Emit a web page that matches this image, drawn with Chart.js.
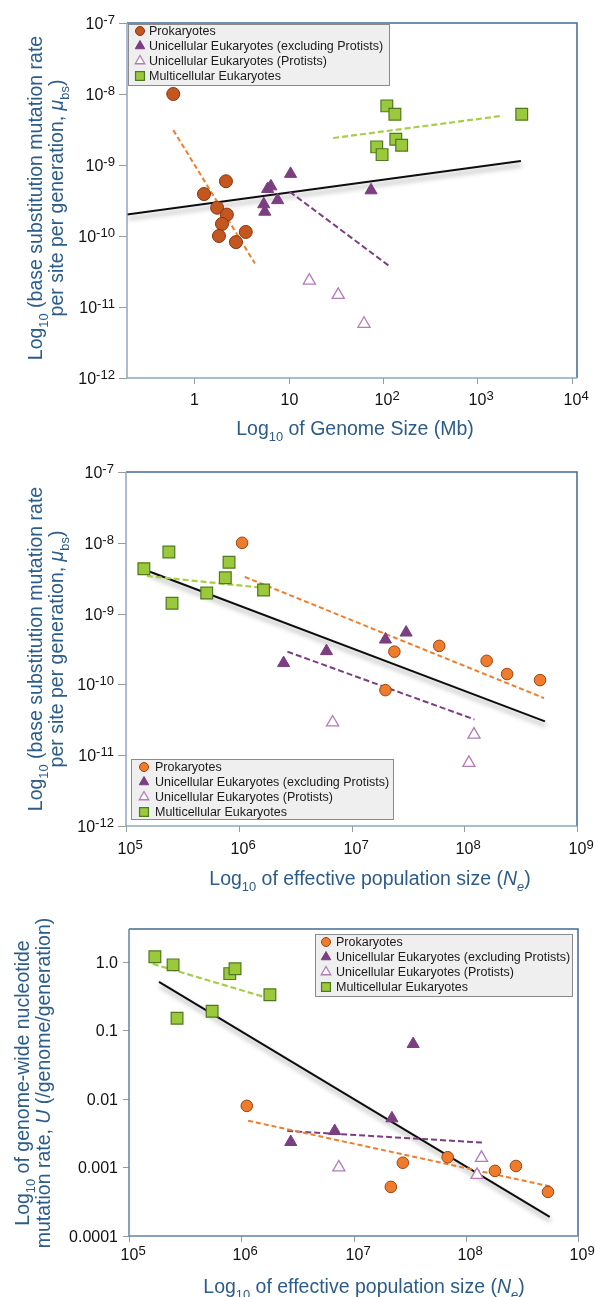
<!DOCTYPE html>
<html>
<head>
<meta charset="utf-8">
<script src="https://cdn.jsdelivr.net/npm/chart.js@4.4.1/dist/chart.umd.min.js"></script>
<style>
  body { margin: 0; background: #fff; }
  .panel { position: absolute; left: 0; width: 595px; }
  canvas { display: block; }
</style>
</head>
<body>
<div class="panel" style="top:0"><canvas id="genomeChart" width="595" height="445"></canvas></div>
<div class="panel" style="top:440px"><canvas id="neChart" width="595" height="456"></canvas></div>
<div class="panel" style="top:890px"><canvas id="uChart" width="595" height="407"></canvas></div>
<script>
// ---- data ----
const groupNames = ['Prokaryotes', 'Unicellular Eukaryotes (excluding Protists)', 'Unicellular Eukaryotes (Protists)', 'Multicellular Eukaryotes']

// top: base substitution rate vs genome size (Mb)
const genomeProk = [[0.6, 1e-8], [1.27, 3.9e-10], [2.17, 5.9e-10], [1.75, 2.5e-10], [2.22, 2.0e-10], [1.97, 1.48e-10], [1.83, 1.0e-10], [2.77, 8.2e-11], [3.52, 1.14e-10]]
const genomeUni = [[10.5, 7.5e-10], [6.0, 4.6e-10], [6.5, 5.0e-10], [7.66, 3.2e-10], [5.46, 2.8e-10], [5.6, 2.2e-10], [74.8, 4.4e-10]]
const genomeProtist = [[16.6, 2.35e-11], [33.6, 1.48e-11], [63, 5.8e-12]]
const genomeMulti = [[110, 6.8e-9], [134, 5.2e-9], [2960, 5.2e-9], [137, 2.3e-9], [158, 1.9e-9], [86, 1.8e-9], [98, 1.4e-9]]
const genomeFitAll = [[0.194, 2.0e-10], [2900, 1.14e-9]]
const genomeFitProk = [[0.6, 3.1e-9], [4.4, 4.1e-11]]
const genomeFitUni = [[10.3, 4.2e-10], [116, 3.8e-11]]
const genomeFitMulti = [[29.7, 2.4e-9], [1790, 4.9e-9]]

// middle: base substitution rate vs Ne
const neProk = [[1.07e6, 1.0e-8], [2.4e7, 2.9e-10], [6.0e7, 3.5e-10], [1.58e8, 2.15e-10], [2.4e8, 1.4e-10], [4.7e8, 1.15e-10], [2.0e7, 8.3e-11]]
const neUni = [[2.5e6, 2.0e-10], [6.0e6, 2.95e-10], [2.0e7, 4.3e-10], [3.05e7, 5.4e-10]]
const neProtist = [[6.8e6, 2.9e-11], [1.22e8, 1.95e-11], [1.1e8, 7.8e-12]]
const neMulti = [[1.44e5, 4.3e-9], [2.4e5, 7.4e-9], [2.56e5, 1.4e-9], [5.2e5, 1.95e-9], [7.6e5, 3.2e-9], [8.2e5, 5.3e-9], [1.66e6, 2.15e-9]]
const neFitAll = [[1.63e5, 3.9e-9], [5.2e8, 3.0e-11]]
const neFitProk = [[1.13e6, 3.3e-9], [5.1e8, 6.4e-11]]
const neFitUni = [[2.7e6, 2.9e-10], [1.23e8, 3.2e-11]]
const neFitMulti = [[1.53e5, 3.4e-9], [1.7e6, 2.3e-9]]

// bottom: genome-wide rate U vs Ne
const uProk = [[1.12e6, 0.0079], [2.75e7, 0.00117], [2.15e7, 5.2e-4], [6.9e7, 0.00141], [1.82e8, 8.9e-4], [2.8e8, 0.00105], [5.4e8, 4.4e-4]]
const uUni = [[2.76e6, 0.00235], [6.8e6, 0.0034], [2.2e7, 0.0052], [3.4e7, 0.063]]
const uProtist = [[7.4e6, 0.001], [1.38e8, 0.00138], [1.26e8, 7.8e-4]]
const uMulti = [[1.7e5, 1.18], [2.47e5, 0.9], [2.68e5, 0.15], [5.5e5, 0.19], [7.9e5, 0.67], [8.8e5, 0.79], [1.8e6, 0.33]]
const uFitAll = [[1.85e5, 0.51], [5.6e8, 1.9e-4]]
const uFitProk = [[1.15e6, 0.0048], [5.9e8, 5.2e-4]]
const uFitUni = [[2.57e6, 0.0034], [1.44e8, 0.0023]]
const uFitMulti = [[1.63e5, 0.93], [1.56e6, 0.31]]

// ticks
const genomeXTicks = [1, 10, 100, 1000, 10000]
const genomeXLabels = [[['1']], [['10']], [['10'], ['2', 'sup']], [['10'], ['3', 'sup']], [['10'], ['4', 'sup']]]
const neXTicks = [1e5, 1e6, 1e7, 1e8, 1e9]
const neXLabels = [5, 6, 7, 8, 9].map(e => [['10'], [String(e), 'sup']])
const rateYTicks = [1e-7, 1e-8, 1e-9, 1e-10, 1e-11, 1e-12]
const rateYLabels = [7, 8, 9, 10, 11, 12].map(e => [['10'], ['-' + e, 'sup']])
const uYTicks = [1, 0.1, 0.01, 0.001, 0.0001]
const uYLabels = ['1.0', '0.1', '0.01', '0.001', '0.0001'].map(t => [[t]])

// ---- drawing helpers ----
const FONT = '"Liberation Sans", Arial, Helvetica, sans-serif'
const TITLE_BLUE = '#2c5c89'

function segFont(seg, size) {
  const k = seg[1] || ''
  const s = k.includes('sub') ? size * 0.66 : k.includes('sup') ? size * 0.82 : size
  return (k.includes('it') ? 'italic ' : '') + s.toFixed(1) + 'px ' + FONT
}
function segShift(seg, size) {
  const k = seg[1] || ''
  return k.includes('sub') ? size * 0.3 : k.includes('sup') ? -size * 0.3 : 0
}
function richWidth(ctx, segs, size) {
  let w = 0
  segs.forEach(seg => { ctx.font = segFont(seg, size); w += ctx.measureText(seg[0]).width })
  return w
}
function drawRich(ctx, segs, x, y, size, align) {
  let w = richWidth(ctx, segs, size)
  if (align === 'base') w = richWidth(ctx, segs.slice(0, 1), size)
  let cx = align === 'right' ? x - w : (align === 'center' || align === 'base') ? x - w / 2 : x
  ctx.textAlign = 'left'
  ctx.textBaseline = 'alphabetic'
  segs.forEach(seg => {
    ctx.font = segFont(seg, size)
    ctx.fillText(seg[0], cx, y + segShift(seg, size))
    cx += ctx.measureText(seg[0]).width
  })
}

const uniStyle = { backgroundColor: '#7b3e80', borderColor: '#7b3e80', pointStyle: 'triangle', pointRadius: 7, borderWidth: 1, legendRadius: 5.5 }
const protistStyle = { backgroundColor: '#ffffff', borderColor: '#b27cb8', pointStyle: 'triangle', pointRadius: 7, borderWidth: 1.3, legendRadius: 5.5 }
const multiStyle = { backgroundColor: '#9cc83b', borderColor: '#4d7a1f', pointStyle: 'rect', pointRadius: 8.3, borderWidth: 1.2, legendRadius: 6.3 }
const prokDark = { backgroundColor: '#c4561f', borderColor: '#86340f', pointStyle: 'circle', pointRadius: 6.5, borderWidth: 1, legendRadius: 4.5 }
const prokBright = { backgroundColor: '#ef7b2c', borderColor: '#9b4512', pointStyle: 'circle', pointRadius: 5.8, borderWidth: 1, legendRadius: 4.5 }

function points(label, data, style) {
  return Object.assign({
    label: label,
    data: data.map(d => ({ x: d[0], y: d[1] })),
    pointHoverRadius: style.pointRadius,
    showLine: false,
    legend: true
  }, style)
}
function fitLine(data, color, dash, width, shadow) {
  return {
    label: '',
    data: data.map(d => ({ x: d[0], y: d[1] })),
    showLine: true,
    borderColor: color,
    borderWidth: width,
    borderDash: dash,
    pointRadius: 0,
    pointHoverRadius: 0,
    fill: false,
    shadow: shadow
  }
}

function framePlugin(p) {
  return {
    id: 'frame',
    beforeDatasetDraw(chart, args) {
      if (chart.data.datasets[args.index].shadow) {
        const ctx = chart.ctx
        ctx.save()
        ctx.shadowColor = 'rgba(0,0,0,0.4)'
        ctx.shadowBlur = 5
        ctx.shadowOffsetX = 1
        ctx.shadowOffsetY = 4
      }
    },
    afterDatasetDraw(chart, args) {
      if (chart.data.datasets[args.index].shadow) chart.ctx.restore()
    },
    afterDraw(chart) {
      const ctx = chart.ctx
      const a = chart.chartArea
      const xs = chart.scales.x, ys = chart.scales.y
      ctx.save()

      // tick marks and labels
      ctx.strokeStyle = '#9a9a9a'
      ctx.lineWidth = 1
      ctx.fillStyle = '#111'
      p.yTicks.forEach((v, i) => {
        const y = Math.round(ys.getPixelForValue(v)) + 0.5
        ctx.beginPath(); ctx.moveTo(a.left - p.yTickLen, y); ctx.lineTo(a.left, y); ctx.stroke()
        drawRich(ctx, p.yLabels[i], a.left - p.yLabelGap, y + 5.5, 16, 'right')
      })
      p.xTicks.forEach((v, i) => {
        const x = Math.round(xs.getPixelForValue(v)) + 0.5
        ctx.beginPath(); ctx.moveTo(x, a.bottom); ctx.lineTo(x, a.bottom + 6); ctx.stroke()
        drawRich(ctx, p.xLabels[i], x, p.xLabelY, 16, 'base')
      })

      // plot frame
      ctx.lineWidth = 1.5
      ctx.strokeStyle = p.frameDark
      ctx.beginPath(); ctx.moveTo(a.left, a.top); ctx.lineTo(a.right, a.top); ctx.lineTo(a.right, a.bottom); ctx.stroke()
      ctx.strokeStyle = p.frameLight
      ctx.beginPath(); ctx.moveTo(a.left, a.top); ctx.lineTo(a.left, a.bottom); ctx.lineTo(a.right, a.bottom); ctx.stroke()

      // axis titles
      ctx.fillStyle = TITLE_BLUE
      drawRich(ctx, p.xTitle, p.xTitleX, p.xTitleY, 19.5, 'center')
      p.yTitle.forEach((segs, i) => {
        ctx.save()
        ctx.translate(p.yTitleX[i], p.yTitleCY)
        ctx.rotate(-Math.PI / 2)
        drawRich(ctx, segs, 0, 0, 19.5, 'center')
        ctx.restore()
      })

      // legend
      const L = p.legend
      ctx.fillStyle = '#efefef'
      ctx.fillRect(L.x, L.y, L.w, L.h)
      ctx.strokeStyle = '#8a8a8a'
      ctx.lineWidth = 1
      ctx.strokeRect(L.x + 0.5, L.y + 0.5, L.w, L.h)
      chart.data.datasets.filter(d => d.legend).forEach((d, i) => {
        const y = L.rowY + i * 15
        ctx.fillStyle = d.backgroundColor
        ctx.strokeStyle = d.borderColor
        ctx.lineWidth = d.borderWidth
        Chart.helpers.drawPoint(ctx, { pointStyle: d.pointStyle, radius: d.legendRadius, rotation: 0, borderWidth: d.borderWidth }, L.markerX, y)
        ctx.fillStyle = '#1a1a1a'
        ctx.font = '12.5px ' + FONT
        ctx.textAlign = 'left'
        ctx.textBaseline = 'middle'
        ctx.fillText(d.label, L.textX, y + 0.5)
      })
      ctx.restore()
    }
  }
}

function makeChart(id, p) {
  const datasets = [
    points(groupNames[0], p.groups[0], p.prokStyle),
    points(groupNames[1], p.groups[1], uniStyle),
    points(groupNames[2], p.groups[2], protistStyle),
    points(groupNames[3], p.groups[3], multiStyle),
    fitLine(p.fits[1], '#f07d2a', [5, 3], 2, false),
    fitLine(p.fits[2], '#7b3e80', [6, 3], 2, false),
    fitLine(p.fits[3], '#a6cf45', [6, 3], 2.2, false),
    fitLine(p.fits[0], '#0d0d0d', [], 2, true)
  ]
  return new Chart(document.getElementById(id), {
    type: 'scatter',
    data: { datasets: datasets },
    options: {
      responsive: false,
      animation: false,
      devicePixelRatio: 1,
      events: [],
      layout: { padding: p.padding },
      plugins: { legend: { display: false }, tooltip: { enabled: false } },
      scales: {
        x: { type: 'logarithmic', min: p.xRange[0], max: p.xRange[1], display: false },
        y: { type: 'logarithmic', min: p.yRange[0], max: p.yRange[1], display: false }
      }
    },
    plugins: [framePlugin(p)]
  })
}

const rateTitle = [
  [['Log'], ['10', 'sub'], [' (base substitution mutation rate']],
  [['per site per generation, '], ['\u03bc', 'it'], ['bs', 'sub'], [')']]
]
const neTitle = [['Log'], ['10', 'sub'], [' of effective population size ('], ['N', 'it'], ['e', 'itsub'], [')']]

makeChart('genomeChart', {
  groups: [genomeProk, genomeUni, genomeProtist, genomeMulti],
  fits: [genomeFitAll, genomeFitProk, genomeFitUni, genomeFitMulti],
  prokStyle: prokDark,
  xRange: [0.194, 11400], yRange: [1e-12, 1e-7],
  padding: { left: 127, top: 23, right: 18, bottom: 67 },
  xTicks: genomeXTicks, xLabels: genomeXLabels, xLabelY: 405,
  yTicks: rateYTicks, yLabels: rateYLabels, yTickLen: 8, yLabelGap: 12,
  frameDark: '#416b94', frameLight: '#8ea8c1',
  xTitle: [['Log'], ['10', 'sub'], [' of Genome Size (Mb)']], xTitleX: 355, xTitleY: 435,
  yTitle: rateTitle, yTitleX: [42, 63], yTitleCY: 198,
  legend: { x: 128, y: 24, w: 261, h: 61, markerX: 140, textX: 149, rowY: 31 }
})

makeChart('neChart', {
  groups: [neProk, neUni, neProtist, neMulti],
  fits: [neFitAll, neFitProk, neFitUni, neFitMulti],
  prokStyle: prokBright,
  xRange: [1e5, 1e9], yRange: [1e-12, 1e-7],
  padding: { left: 126, top: 32, right: 18, bottom: 70 },
  xTicks: neXTicks, xLabels: neXLabels, xLabelY: 414,
  yTicks: rateYTicks, yLabels: rateYLabels, yTickLen: 8, yLabelGap: 12,
  frameDark: '#416b94', frameLight: '#8ea8c1',
  xTitle: neTitle, xTitleX: 370, xTitleY: 445,
  yTitle: rateTitle, yTitleX: [42, 63], yTitleCY: 209,
  legend: { x: 131, y: 319, w: 262, h: 60, markerX: 144, textX: 155, rowY: 327 }
})

makeChart('uChart', {
  groups: [uProk, uUni, uProtist, uMulti],
  fits: [uFitAll, uFitProk, uFitUni, uFitMulti],
  prokStyle: prokBright,
  xRange: [1e5, 1e9], yRange: [1e-4, 3.0],
  padding: { left: 129, top: 39, right: 17, bottom: 61 },
  xTicks: neXTicks, xLabels: neXLabels, xLabelY: 370,
  yTicks: uYTicks, yLabels: uYLabels, yTickLen: 6, yLabelGap: 11,
  frameDark: '#416b94', frameLight: '#5e84ab',
  xTitle: neTitle, xTitleX: 364, xTitleY: 403,
  yTitle: [
    [['Log'], ['10', 'sub'], [' of genome-wide nucleotide']],
    [['mutation rate, '], ['U', 'it'], [' (/genome/generation)']]
  ],
  yTitleX: [29, 50], yTitleCY: 193,
  legend: { x: 315, y: 44, w: 257, h: 62, markerX: 326, textX: 336, rowY: 52 }
})
</script>
</body>
</html>
